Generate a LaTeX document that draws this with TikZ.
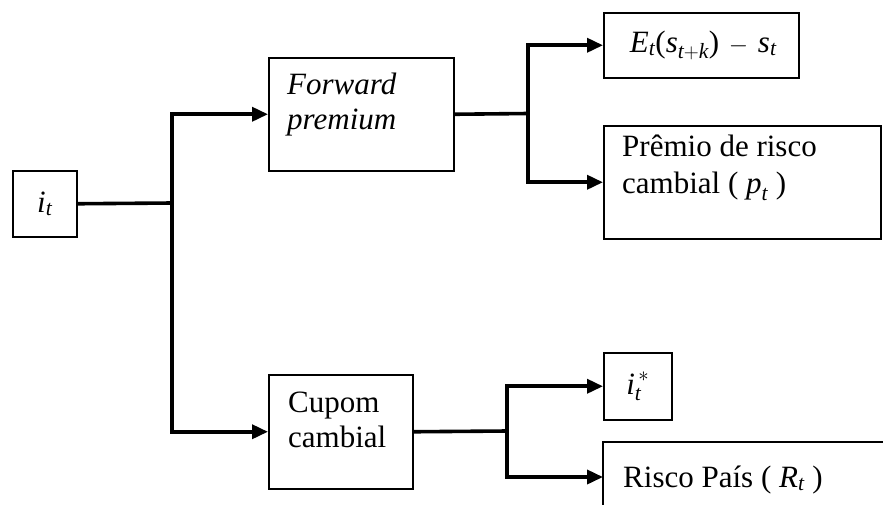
\documentclass[tikz,border=0pt]{standalone}
\usepackage{amsmath}
\usepackage{fontspec}
\setmainfont{Liberation Serif}
\usetikzlibrary{arrows.meta}
\newcommand{\vi}[1]{\textit{#1}}
\newcommand{\pp}[1]{\textup{#1}}
\begin{document}
\begin{tikzpicture}[x=1pt,y=-1pt,
  box/.style={draw=black,line width=1.5pt,rectangle,inner sep=0pt,anchor=north west},
  txt/.style={anchor=base west,inner sep=0pt,font=\fontsize{31}{35}\selectfont},
  mtxt/.style={inner sep=0pt,font=\fontsize{31}{35}\selectfont},
  conn/.style={draw=black,line width=3.6pt},
  arr/.style={conn,-{Triangle[length=16pt,width=14pt]}}
]
\useasboundingbox (0,0) rectangle (883,504);
% boxes
\node[box,minimum width=64pt,minimum height=66pt] (it) at (12,170) {};
\node[box,minimum width=185pt,minimum height=113pt] (fp) at (268,57) {};
\node[box,minimum width=144pt,minimum height=114pt] (cc) at (268,374) {};
\node[box,minimum width=195pt,minimum height=65pt] (ex) at (603,12) {};
\node[box,minimum width=277pt,minimum height=113pt] (pr) at (603,125) {};
\node[box,minimum width=68pt,minimum height=67pt] (is) at (603,352) {};
\draw[line width=1.5pt] (884,442) coordinate (rpne) -- (603,442) coordinate (rpnw) -- (603,505) coordinate (rpsw);
\coordinate (rpw) at (603,477);
% texts
\node[mtxt] (itt) at (it.center) {$\vi{i}_{\vi{t}}$};
\node[txt] (fpt1) at (287,94) {\textit{Forward}};
\node[txt] (fpt2) at (287,129) {\textit{premium}};
\node[txt] (cct1) at (288,412) {Cupom};
\node[txt] (cct2) at (288,447) {cambial};
\node[mtxt] (ext) at ([xshift=2pt]ex.center) {$\vi{E}_{\vi{t}}\pp{(}\vi{s}_{\vi{t}+\vi{k}}\pp{)}\,-\,\vi{s}_{\vi{t}}$};
\node[txt] (prt1) at (622,156) {Prêmio de risco};
\node[txt] (prt2) at (622,193) {cambial ( $\vi{p}_{\vi{t}}$ )};
\node[mtxt] (ist) at (is.center) {$\vi{i}_{\vi{t}}^{\,*}$};
\node[txt] (rpt) at (623,487) {Risco País ( $\vi{R}_{\vi{t}}$ )};
% connectors
\coordinate (j1) at (172,203);
\coordinate (j2) at (528,113.5);
\coordinate (j3) at (507,431);
\draw[conn] (it.east) -- (j1);
\draw[arr] (j1) |- (fp.west);
\draw[arr] (j1) |- (cc.west);
\draw[conn] (fp.east) -- (j2);
\draw[arr] (j2) |- (ex.west);
\draw[arr] (j2) |- (pr.west);
\draw[conn] (cc.east) -- (j3);
\draw[arr] (j3) |- (is.west);
\draw[arr] (j3) |- (rpw);
\end{tikzpicture}
\end{document}
